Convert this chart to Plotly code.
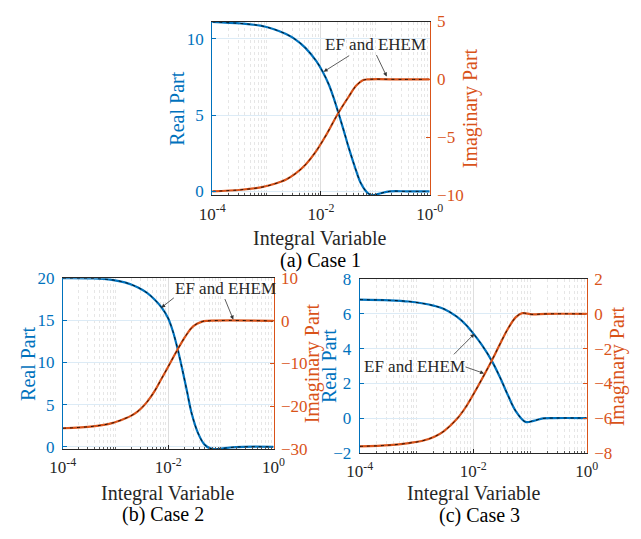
import numpy as np
import plotly.graph_objects as go

# ---------------- data (x given as log10 of the integral variable) ----------------
c1_real_lx = [-4, -3.47, -3.114, -2.878, -2.643, -2.467, -2.291, -2.085, -1.968, -1.85, -1.762,
              -1.674, -1.586, -1.498, -1.38, -1.263, -1.146, -1.057, -0.939, -0.735, -0.4, 0]
c1_real = [11.12, 11.01, 10.87, 10.65, 10.32, 9.96, 9.43, 8.54, 7.85, 6.96, 6.08,
           5.09, 4.05, 2.97, 1.65, 0.51, -0.09, -0.25, -0.16, 0.0, 0.0, 0.0]
c1_imag_lx = [-4, -3.47, -3.11, -2.88, -2.64, -2.47, -2.29, -2.085, -1.908, -1.686,
              -1.50, -1.35, -1.23, -1.145, -0.5, 0]
c1_imag = [-9.67, -9.53, -9.33, -9.06, -8.64, -8.14, -7.39, -6.17, -4.83, -2.94,
           -1.56, -0.53, -0.08, 0.0, 0.0, 0.0]

c2_real_lx = [-4, -3.425, -3.067, -2.824, -2.582, -2.4, -2.249, -2.127, -2.005, -1.915,
              -1.824, -1.733, -1.642, -1.551, -1.431, -1.309, -1.187, -1.036, -0.824, -0.582, 0]
c2_real = [20.0, 19.97, 19.8, 19.5, 18.93, 18.25, 17.4, 16.53, 15.31, 13.79,
           11.69, 9.22, 6.55, 3.89, 1.6, 0.26, -0.22, -0.25, -0.08, 0.0, 0.0]
c2_imag_lx = [-4, -3.425, -3.067, -2.824, -2.709, -2.582, -2.491, -2.4, -2.249, -2.127,
              -2.005, -1.824, -1.673, -1.522, -1.369, -1.249, 0]
c2_imag = [-25.15, -24.7, -23.95, -22.89, -22.26, -21.24, -20.23, -18.98, -16.27, -13.56,
           -10.85, -6.78, -3.62, -1.24, -0.23, 0.0, 0.0]

c3_real_lx = [-4, -3.472, -3.134, -2.908, -2.684, -2.515, -2.29, -2.122, -1.98, -1.84,
              -1.671, -1.531, -1.389, -1.249, -1.08, -0.94, -0.771, -0.6, 0]
c3_real = [6.82, 6.78, 6.71, 6.61, 6.46, 6.28, 5.84, 5.35, 4.79, 4.17,
           3.28, 2.36, 1.31, 0.39, -0.22, -0.16, -0.02, 0.0, 0.0]
c3_imag_lx = [-4, -3.472, -3.134, -2.908, -2.684, -2.515, -2.29, -2.122, -1.98,
              -1.811, -1.671, -1.531, -1.389, -1.249, -1.136, -0.967, -0.714, 0]
c3_imag = [-7.63, -7.56, -7.44, -7.32, -7.07, -6.75, -6.06, -5.32, -4.53,
           -3.53, -2.67, -1.75, -0.86, -0.19, 0.04, -0.03, 0.0, 0.0]

x_tickvals = [1e-4, 1e-2, 1e0]
c1_xticktext = ["10<sup>-4</sup>", "10<sup>-2</sup>", "10<sup>-0</sup>"]
c23_xticktext = ["10<sup>-4</sup>", "10<sup>-2</sup>", "10<sup>0</sup>"]
c1_lticks, c1_rticks = [0, 5, 10], [-10, -5, 0, 5]
c2_lticks, c2_rticks = [0, 5, 10, 15, 20], [-30, -20, -10, 0, 10]
c3_lticks, c3_rticks = [-2, 0, 2, 4, 6, 8], [-8, -6, -4, -2, 0, 2]
captions = ["(a) Case 1", "(b) Case 2", "(c) Case 3"]
label = "EF and EHEM"

# ---------------- style ----------------
BLUE = "#0072BD"
ORANGE = "#D95319"
DARK = "#262626"
FONT = "Liberation Serif, Times New Roman, serif"
W, H = 641, 539

minor_vals = [k * 10.0 ** d for d in range(-4, 0) for k in range(1, 10) if not (k == 1 and d in (-4, -2))]

def px(v):  # pixel -> paper x
    return v / W

def py(v):  # pixel -> paper y
    return 1 - v / H

fig = go.Figure()

cases = [
    (c1_real_lx, c1_real, c1_imag_lx, c1_imag),
    (c2_real_lx, c2_real, c2_imag_lx, c2_imag),
    (c3_real_lx, c3_real, c3_imag_lx, c3_imag),
]
axes_ids = [("x", "y", "y2"), ("x2", "y3", "y4"), ("x3", "y5", "y6")]

for (rlx, rv, ilx, iv), (xa, ya, yb) in zip(cases, axes_ids):
    rx = 10.0 ** np.array(rlx)
    ix = 10.0 ** np.array(ilx)
    fig.add_trace(go.Scatter(x=rx, y=rv, xaxis=xa, yaxis=ya, mode="lines", name="EF",
                             line=dict(color=BLUE, width=2.2, shape="spline", smoothing=1.0)))
    fig.add_trace(go.Scatter(x=rx, y=rv, xaxis=xa, yaxis=ya, mode="lines", name="EHEM",
                             line=dict(color="black", width=0.8, dash="3px,4px", shape="spline", smoothing=1.0)))
    fig.add_trace(go.Scatter(x=ix, y=iv, xaxis=xa, yaxis=yb, mode="lines", name="EF",
                             line=dict(color=ORANGE, width=2.2, shape="spline", smoothing=1.0)))
    fig.add_trace(go.Scatter(x=ix, y=iv, xaxis=xa, yaxis=yb, mode="lines", name="EHEM",
                             line=dict(color="black", width=0.8, dash="3px,4px", shape="spline", smoothing=1.0)))

# pixel boxes of the three axes: (left, right, top, bottom)
boxes = [(208, 435, 13, 193), (52, 272, 279, 456), (362, 599, 280, 460)]
lranges = [[-0.25, 11.14], [-0.25, 20], [-2, 8]]
rranges = [[-10, 5], [-30, 10], [-8, 2]]
lticks = [c1_lticks, c2_lticks, c3_lticks]
rticks = [c1_rticks, c2_rticks, c3_rticks]
xtexts = [c1_xticktext, c23_xticktext, c23_xticktext]

tickfont = dict(family=FONT, size=17)
layout = {}
for i, ((l, r, t, b), lr, rr, lt, rt, xt) in enumerate(zip(boxes, lranges, rranges, lticks, rticks, xtexts)):
    xn = "xaxis" if i == 0 else f"xaxis{i+1}"
    yl = "yaxis" if i == 0 else f"yaxis{2*i+1}"
    yr = f"yaxis{2*i+2}"
    xid = "x" if i == 0 else f"x{i+1}"
    ylid = "y" if i == 0 else f"y{2*i+1}"
    layout[xn] = dict(type="log", range=[-4, 0], domain=[px(l), px(r)], anchor=ylid,
                      tickvals=x_tickvals, ticktext=xt, ticks="inside", ticklen=4,
                      tickcolor=DARK, tickfont=dict(tickfont, color=DARK), ticklabelstandoff=3,
                      showline=True, linecolor=DARK, linewidth=1, mirror=True,
                      showgrid=True, gridcolor="#dedede", gridwidth=1,
                      minor=dict(tickvals=minor_vals, ticks="inside", ticklen=2, tickcolor="#555555",
                                 showgrid=True, gridcolor="#e6e6e6", griddash="dot", gridwidth=1),
                      zeroline=False)
    layout[yl] = dict(range=lr, domain=[py(b), py(t)], anchor=xid, tickvals=lt,
                      ticks="inside", ticklen=4, tickcolor=BLUE, tickfont=dict(tickfont, color=BLUE),
                      ticklabelstandoff=4,
                      showline=True, linecolor=BLUE, linewidth=1,
                      showgrid=True, gridcolor="#dcebf6", zeroline=False)
    layout[yr] = dict(range=rr, overlaying=ylid, side="right", anchor=xid, tickvals=rt,
                      ticks="inside", ticklen=4, tickcolor=ORANGE, tickfont=dict(tickfont, color=ORANGE),
                      ticklabelstandoff=3,
                      showline=True, linecolor=ORANGE, linewidth=1,
                      showgrid=False, zeroline=False)

fig.update_layout(**layout)

ann = []
# axis titles and captions
ytitle_pos = [(171.5, 478), (15, 313), (330, 632)]
xlabel_pos = [(321, 238), (162, 502), (481, 502)]
cap_pos = [(321, 261), (157, 524), (487, 525)]
for (l, r, t, b), (yx1, yx2), (xlx, xly), (cx, cy), cap in zip(boxes, ytitle_pos, xlabel_pos, cap_pos, captions):
    yc = (t + b) / 2
    ann.append(dict(text="Real Part", x=px(yx1), y=py(yc), xref="paper", yref="paper", showarrow=False,
                    textangle=-90, font=dict(family=FONT, size=20, color=BLUE), xanchor="center", yanchor="middle"))
    ann.append(dict(text="Imaginary Part", x=px(yx2), y=py(yc), xref="paper", yref="paper", showarrow=False,
                    textangle=-90, font=dict(family=FONT, size=20, color=ORANGE), xanchor="center", yanchor="middle"))
    ann.append(dict(text="Integral Variable", x=px(xlx), y=py(xly), xref="paper", yref="paper", showarrow=False,
                    font=dict(family=FONT, size=20, color=DARK), xanchor="center", yanchor="middle"))
    ann.append(dict(text=cap, x=px(cx), y=py(cy), xref="paper", yref="paper", showarrow=False,
                    font=dict(family=FONT, size=20, color="black"), xanchor="center", yanchor="middle"))

# "EF and EHEM" labels with arrows: (text pos), (arrow1 head on real axis, offset), (arrow2 head on imag axis, offset)
callouts = [
    (("x", "y", -1.0, 9.64), ("x", "y", -1.95, 7.85, 27, -17), ("x", "y2", -0.79, 0.25, -11, -23)),
    (("x2", "y3", -0.918, 18.74), ("x2", "y3", -2.13, 16.5, 14, -11), ("x2", "y4", -0.764, 0.3, -9, -22)),
    (("x3", "y5", -3.04, 2.98), ("x3", "y5", -1.98, 4.85, -22, 22), ("x3", "y6", -1.81, -3.43, -20, -7)),
]
for (tx, ty, tlx, tyv), a1, a2 in callouts:
    ann.append(dict(text=label, x=tlx, y=tyv, xref=tx, yref=ty, showarrow=False,
                    font=dict(family=FONT, size=17, color=DARK), xanchor="center", yanchor="middle"))
    for (axr, ayr, hx, hy, ox, oy) in (a1, a2):
        ann.append(dict(text="", x=hx, y=hy, xref=axr, yref=ayr, showarrow=True, ax=ox, ay=oy,
                        arrowhead=2, arrowsize=1, arrowwidth=0.8, arrowcolor="#333333", standoff=0))

fig.update_layout(width=W, height=H, margin=dict(l=0, r=0, t=0, b=0),
                  paper_bgcolor="white", plot_bgcolor="white", showlegend=False,
                  font=dict(family=FONT), annotations=ann)

fig.write_html("out.html")
